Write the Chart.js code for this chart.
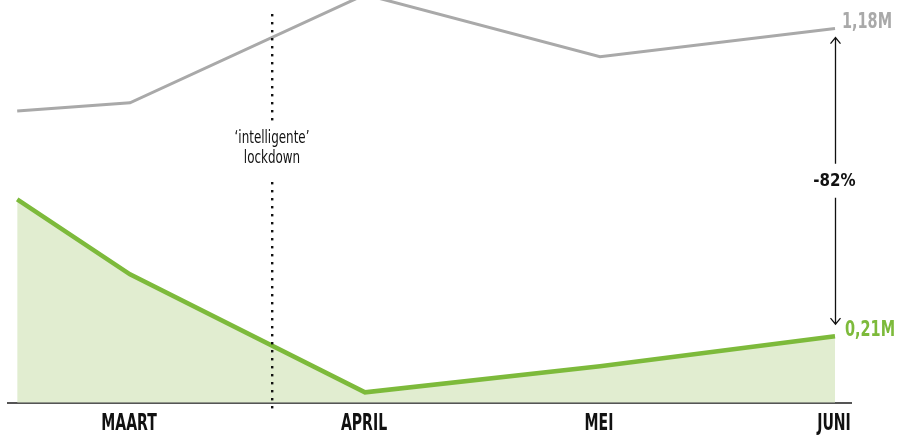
<!DOCTYPE html>
<html><head><meta charset="utf-8">
<script src="https://cdn.jsdelivr.net/npm/chart.js@4"></script>
<style>html,body{margin:0;padding:0;background:#fff}#wrap{width:914px;height:448px}</style>
</head><body><div id="wrap"><canvas id="c" width="914" height="448"></canvas></div>
<script>
// ---- data ----
const monthLabels = ['MAART', 'APRIL', 'MEI', 'JUNI'];
const monthPositions = [1, 2, 3, 4];
const xPositions = [0.52, 1, 2, 3, 4];
const values2019 = [0.92, 0.946, 1.287, 1.091, 1.18];   // millions
const values2020 = [0.641, 0.405, 0.033, 0.115, 0.21]; // millions
const lockdownX = 1.604;
const lockdownLabel = ['\u2018intelligente\u2019', 'lockdown'];
const changeLabel = '-82%';

const FONT = '"Liberation Sans Narrow","DejaVu Sans Condensed","Arial Narrow",sans-serif';
const GREEN = '#7dba3b';
const GREY = '#a9a9a9';

function fmt(v){ return v.toFixed(2).replace('.', ',') + 'M'; }

function textC(ctx, txt, x, y, font, sx, align, color){
  ctx.save();
  ctx.font = font; ctx.fillStyle = color;
  ctx.textBaseline = 'middle'; ctx.textAlign = align;
  ctx.translate(x, y); ctx.scale(sx, 1);
  ctx.fillText(txt, 0, 0);
  ctx.restore();
}

const annot = {
  id: 'annot',
  afterDatasetsDraw(chart){
    const ctx = chart.ctx, xs = chart.scales.x;
    ctx.save();
    // month labels at the axis ticks (condensed)
    xs.ticks.forEach((t) => {
      const px = xs.getPixelForValue(t.value);
      textC(ctx, monthLabels[monthPositions.indexOf(t.value)], px - 1, 424,
            'bold 23px ' + FONT, 0.68, 'center', '#111');
    });
    // lockdown dotted line
    const lx = Math.round(xs.getPixelForValue(lockdownX));
    ctx.fillStyle = '#111';
    for (let y = 15; y <= 412; y += 8){
      if (y > 122 && y < 177) continue;
      ctx.fillRect(lx - 1, y - 1, 2.4, 2.4);
    }
    textC(ctx, lockdownLabel[0], lx, 139, '17px ' + FONT, 0.78, 'center', '#111');
    textC(ctx, lockdownLabel[1], lx, 159, '17px ' + FONT, 0.78, 'center', '#111');

    // end labels
    const mg = chart.getDatasetMeta(0), mgr = chart.getDatasetMeta(1);
    const pg = mg.data[mg.data.length-1], pr = mgr.data[mgr.data.length-1];
    textC(ctx, fmt(values2019[values2019.length-1]), pg.x + 7, pg.y - 6, 'bold 22px ' + FONT, 0.73, 'left', GREY);
    textC(ctx, fmt(values2020[values2020.length-1]), pr.x + 10, pr.y - 6, 'bold 22px ' + FONT, 0.73, 'left', GREEN);

    // arrow
    const ax = Math.round(pg.x) + 0.5;
    const top = pg.y + 9, bot = pr.y - 12, mid = (top + bot) / 2;
    ctx.strokeStyle = '#111'; ctx.lineWidth = 1.3;
    ctx.beginPath();
    ctx.moveTo(ax, top); ctx.lineTo(ax, mid - 17);
    ctx.moveTo(ax, mid + 17); ctx.lineTo(ax, bot);
    ctx.moveTo(ax - 5, top + 6); ctx.lineTo(ax, top); ctx.lineTo(ax + 5, top + 6);
    ctx.moveTo(ax - 5, bot - 6); ctx.lineTo(ax, bot); ctx.lineTo(ax + 5, bot - 6);
    ctx.stroke();
    textC(ctx, changeLabel, ax - 1, mid, 'bold 18px ' + FONT, 0.93, 'center', '#111');
    ctx.restore();
  }
};

new Chart(document.getElementById('c'), {
  type: 'line',
  data: {
    datasets: [
      { label: '2019', data: xPositions.map((x,i)=>({x, y: values2019[i]})),
        borderColor: GREY, borderWidth: 3, pointRadius: 0, fill: false, clip: false, tension: 0 },
      { label: '2020', data: xPositions.map((x,i)=>({x, y: values2020[i]})),
        borderColor: GREEN, borderWidth: 4.5, pointRadius: 0, fill: 'origin',
        backgroundColor: '#e1edd0', clip: false, tension: 0 }
    ]
  },
  options: {
    responsive: false, animation: false,
    layout: { padding: { left: 8, right: 63, top: 0, bottom: 0 } },
    plugins: { legend: { display: false }, tooltip: { enabled: false } },
    scales: {
      x: {
        type: 'linear', min: 0.4809, max: 4.068,
        afterBuildTicks: (s) => { s.ticks = monthPositions.map(v => ({ value: v })); },
        ticks: {
          callback: (v) => monthLabels[monthPositions.indexOf(v)],
          font: { family: FONT, size: 21, weight: 'bold' }, color: 'rgba(0,0,0,0)',
          padding: 10, maxRotation: 0, autoSkip: false
        },
        grid: { display: false, drawTicks: false },
        border: { display: true, color: '#555', width: 2 }
      },
      y: { display: false, min: 0, max: 1.27 }
    }
  },
  plugins: [annot]
});
</script>
</body></html>
